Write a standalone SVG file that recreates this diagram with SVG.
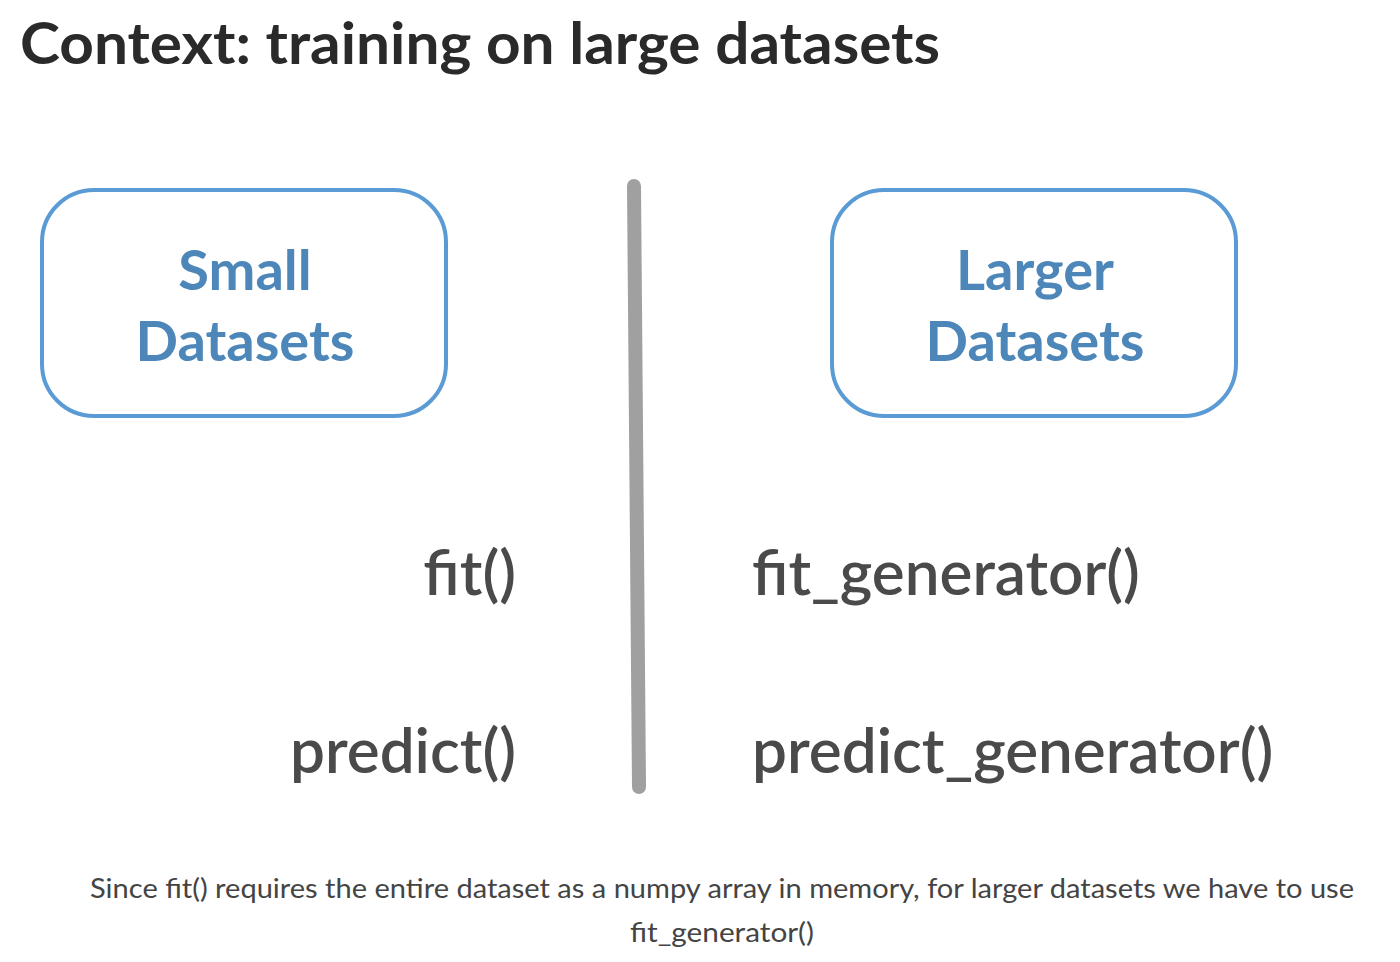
<svg xmlns="http://www.w3.org/2000/svg" width="1400" height="962" viewBox="0 0 1400 962">
<style>
.title{font-family:"Lato","Liberation Sans",sans-serif;font-weight:bold;font-size:58px;fill:#2a2a2a}
.box{fill:#fff;stroke:#5b9bd5;stroke-width:4}
.boxlbl{font-family:"Lato","Liberation Sans",sans-serif;font-weight:bold;font-size:56px;fill:#4d87b9;text-anchor:middle}
.fn{font-family:"Lato","Liberation Sans",sans-serif;font-weight:600;font-size:62px;fill:#4a4a4a}
.cap{font-family:"Lato","Liberation Sans",sans-serif;font-size:26px;fill:#444}
</style>
<rect width="1400" height="962" fill="#fff"/>
<text class="title" x="20" y="64" textLength="920" lengthAdjust="spacingAndGlyphs">Context: training on large datasets</text>
<g id="small">
<rect class="box" x="42" y="190" width="404" height="226" rx="52"/>
<text class="boxlbl" x="245" y="290">Small</text>
<text class="boxlbl" x="245" y="361">Datasets</text>
</g>
<g id="larger">
<rect class="box" x="832" y="190" width="404" height="226" rx="52"/>
<text class="boxlbl" x="1035" y="290">Larger</text>
<text class="boxlbl" x="1035" y="361">Datasets</text>
</g>
<g id="connectors">
<line x1="634" y1="186" x2="639" y2="787" stroke="#a0a0a0" stroke-width="14" stroke-linecap="round"/>
</g>
<g id="fit"><text class="fn" x="516" y="595" text-anchor="end">fit()</text></g>
<g id="predict"><text class="fn" x="516" y="773" text-anchor="end">predict()</text></g>
<g id="fitgen"><text class="fn" x="752" y="595">fit_generator()</text></g>
<g id="predgen"><text class="fn" x="752" y="773">predict_generator()</text></g>
<g id="caption">
<text class="cap" x="722" y="898" text-anchor="middle" textLength="1264" lengthAdjust="spacingAndGlyphs">Since fit() requires the entire dataset as a numpy array in memory, for larger datasets we have to use</text>
<text class="cap" x="722" y="942" text-anchor="middle" textLength="184" lengthAdjust="spacingAndGlyphs">fit_generator()</text>
</g>
</svg>
